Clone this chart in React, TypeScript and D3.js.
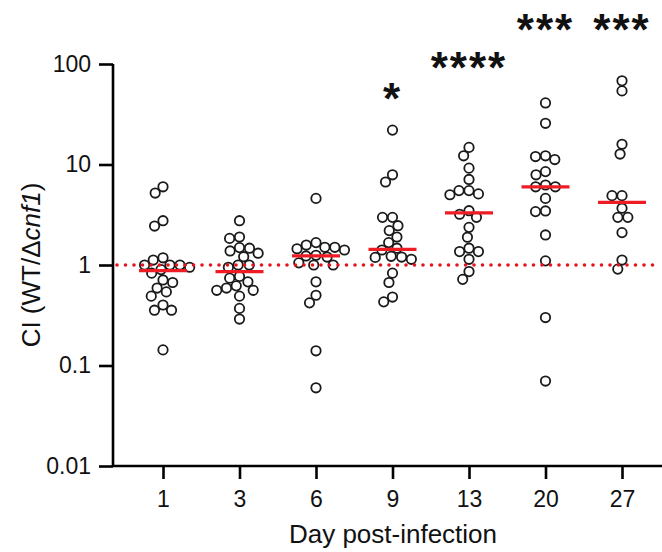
import { useEffect, useRef } from 'react';
import * as d3 from 'd3';

// day post-infection groups
const days = ['1', '3', '6', '9', '13', '20', '27'];

// competitive index values per day
const day1 = [6.0, 5.2, 2.76, 2.44, 1.18, 1.12, 1.0, 1.0, 1.0, 0.95, 0.9, 0.83, 0.71, 0.67, 0.59, 0.54, 0.49, 0.4, 0.355, 0.355, 0.143];
const day3 = [2.76, 1.9, 1.84, 1.49, 1.47, 1.38, 1.31, 1.21, 1.0, 1.0, 0.95, 0.77, 0.74, 0.68, 0.62, 0.59, 0.56, 0.56, 0.49, 0.37, 0.29];
const day6 = [4.6, 1.67, 1.58, 1.5, 1.5, 1.45, 1.41, 1.25, 1.23, 1.2, 1.05, 1.0, 1.0, 0.68, 0.5, 0.42, 0.14, 0.06];
const day9 = [22, 7.9, 6.7, 2.98, 2.98, 2.46, 2.2, 1.9, 1.67, 1.47, 1.41, 1.22, 1.2, 1.19, 1.14, 0.83, 0.67, 0.48, 0.43];
const day13 = [14.8, 12.2, 9.2, 7.1, 5.5, 5.5, 5.1, 5.0, 3.47, 3.2, 2.98, 2.37, 1.89, 1.47, 1.36, 1.36, 1.14, 0.86, 0.72];
const day20 = [41, 25.7, 12.2, 12, 11.2, 8.5, 7.9, 6.25, 6.0, 6.0, 4.6, 3.45, 3.4, 1.99, 1.1, 0.3, 0.07];
const day27 = [68, 54, 15.9, 12.7, 4.9, 4.9, 3.67, 2.98, 2.98, 2.1, 1.12, 0.91];

const groups = [day1, day3, day6, day9, day13, day20, day27];
const medians = [0.88, 0.86, 1.23, 1.43, 3.3, 6.0, 4.2];
const stars = ['', '', '', '*', '****', '***', '***'];
const starLevel = [0, 0, 0, 96, 65, 27, 27];

const yTicks = [100, 10, 1, 0.1, 0.01];

// simple beeswarm: place each point as close to the centre as it can go
function swarm(values: number[], y: (v: number) => number, d: number) {
  const placed: { x: number; y: number; v: number }[] = [];
  const sorted = [...values].sort((a, b) => b - a);
  sorted.forEach(v => {
    const py = y(v);
    const blocked: [number, number][] = [];
    placed.forEach(p => {
      const dy = Math.abs(p.y - py);
      if (dy < d) {
        const w = Math.sqrt(d * d - dy * dy);
        blocked.push([p.x - w, p.x + w]);
      }
    });
    const cands = [0];
    blocked.forEach(([a, b]) => { cands.push(a, b); });
    cands.sort((a, b) => Math.abs(a) - Math.abs(b));
    const ok = cands.find(c => blocked.every(([a, b]) => c <= a + 1e-6 || c >= b - 1e-6));
    placed.push({ x: ok ?? 0, y: py, v });
  });
  return placed;
}

const App = () => {
  const ref = useRef<SVGSVGElement>(null);

  useEffect(() => {
    const width = 662;
    const height = 552;
    const margin = { top: 64, right: 2, bottom: 86, left: 113 };

    const svg = d3.select(ref.current);
    svg.selectAll('*').remove();

    const x = d3.scalePoint().domain(days).range([163, 622]);
    const y = d3.scaleLog().domain([0.01, 100]).range([height - margin.bottom, margin.top]);

    const font = "'Liberation Sans', Arial, sans-serif";

    // points
    groups.forEach((vals, i) => {
      const cx = x(days[i]) as number;
      const pts = swarm(vals, v => y(v), 10);
      svg.append('g')
        .selectAll('circle')
        .data(pts)
        .enter()
        .append('circle')
        .attr('cx', p => cx + p.x)
        .attr('cy', p => p.y)
        .attr('r', 4.7)
        .attr('fill', '#fff')
        .attr('stroke', '#1a1a1a')
        .attr('stroke-width', 1.8);
    });

    // reference line at CI = 1
    svg.append('line')
      .attr('x1', margin.left + 4)
      .attr('x2', width - 2)
      .attr('y1', y(1))
      .attr('y2', y(1))
      .attr('stroke', '#e8121f')
      .attr('stroke-width', 3.6)
      .attr('stroke-linecap', 'round')
      .attr('stroke-dasharray', '0 8.5');

    // medians
    svg.append('g')
      .selectAll('line')
      .data(medians)
      .enter()
      .append('line')
      .attr('x1', (d, i) => (x(days[i]) as number) - 24)
      .attr('x2', (d, i) => (x(days[i]) as number) + 24)
      .attr('y1', d => y(d))
      .attr('y2', d => y(d))
      .attr('stroke', '#ee1c24')
      .attr('stroke-width', 3.2);

    // y axis
    const yAxis = svg.append('g')
      .attr('transform', `translate(${margin.left},0)`)
      .call(d3.axisLeft(y).tickValues(yTicks).tickFormat(d => String(d)).tickSize(14).tickPadding(8));
    yAxis.select('.domain').attr('stroke-width', 2.6).attr('d', `M0,${margin.top}V${height - margin.bottom}`);
    yAxis.selectAll('.tick line').attr('stroke-width', 2.6);
    yAxis.selectAll('text')
      .attr('font-size', 23)
      .attr('font-family', font)
      .attr('fill', '#111');

    // x axis
    const xAxis = svg.append('g')
      .attr('transform', `translate(0,${height - margin.bottom})`)
      .call(d3.axisBottom(x).tickSize(13).tickPadding(12));
    xAxis.select('.domain').attr('stroke-width', 2.6).attr('d', `M${margin.left},0H${width}`);
    xAxis.selectAll('.tick line').attr('stroke-width', 2.6);
    xAxis.selectAll('text')
      .attr('font-size', 23)
      .attr('font-family', font)
      .attr('fill', '#111');

    // axis titles
    svg.append('text')
      .attr('x', 393)
      .attr('y', 543)
      .attr('text-anchor', 'middle')
      .attr('font-size', 26)
      .attr('font-family', font)
      .attr('fill', '#111')
      .text('Day post-infection');

    const yTitle = svg.append('text')
      .attr('transform', 'translate(40,265) rotate(-90)')
      .attr('text-anchor', 'middle')
      .attr('font-size', 26)
      .attr('font-family', font)
      .attr('fill', '#111');
    yTitle.append('tspan').text('CI (WT/Δ');
    yTitle.append('tspan').attr('font-style', 'italic').text('cnf1');
    yTitle.append('tspan').text(')');

    // significance stars
    svg.append('g')
      .selectAll('text')
      .data(stars)
      .enter()
      .append('text')
      .attr('x', (d, i) => x(days[i]) as number)
      .attr('y', (d, i) => starLevel[i] + 18)
      .attr('text-anchor', 'middle')
      .attr('font-size', 44)
      .attr('font-weight', 'bold')
      .attr('font-family', font)
      .attr('letter-spacing', 2)
      .attr('fill', '#111')
      .text(d => d);

    svg.attr('width', width).attr('height', height);
  }, []);

  return (
    <svg ref={ref} style={{ position: 'absolute', left: 0, top: 0, background: '#fff' }} />
  );
};

export default App;
